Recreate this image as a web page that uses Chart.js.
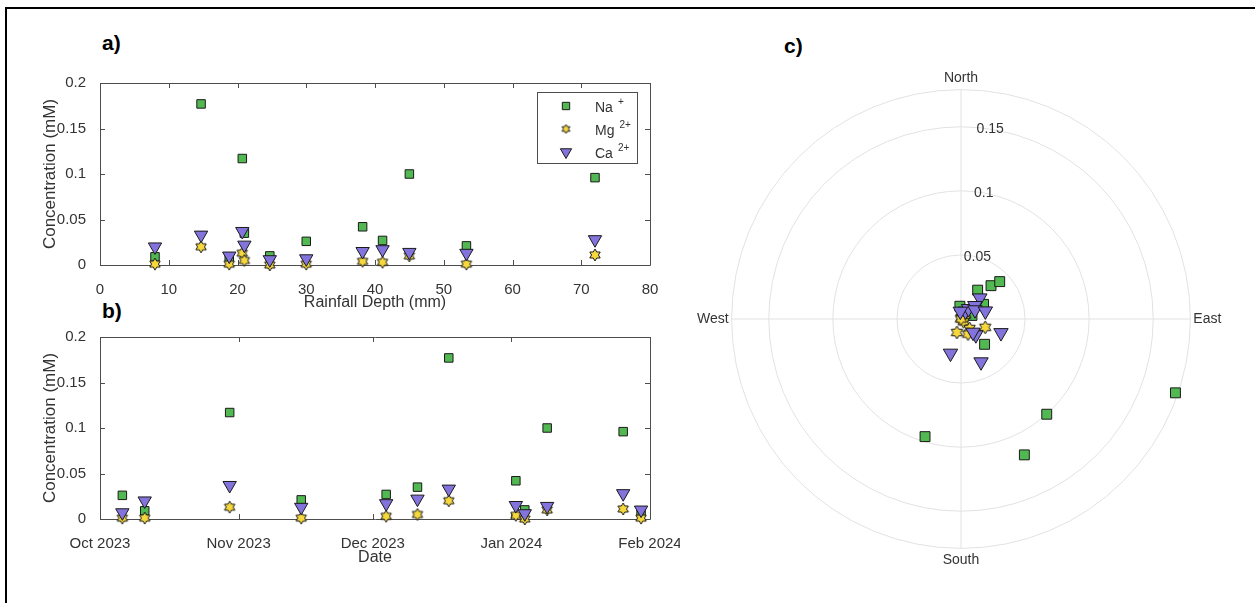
<!DOCTYPE html>
<html>
<head>
<meta charset="utf-8">
<title>Rainwater cation concentrations</title>
<script src="https://cdn.jsdelivr.net/npm/chart.js"></script>
<style>
  body { margin: 0; background: #fff; width: 1255px; height: 603px; overflow: hidden; position: relative; font-family: 'Liberation Sans', Arial, sans-serif; }
  .frame { position: absolute; left: 5px; top: 7px; width: 1400px; height: 800px; border-top: 2px solid #000; border-left: 2px solid #000; }
  canvas { position: absolute; }
  .tag { position: absolute; font-weight: bold; font-size: 21px; line-height: 20px; color: #000; }
</style>
</head>
<body>
<div class="frame"></div>
<div class="tag" style="left:102px;top:33px">a)</div>
<div class="tag" style="left:102px;top:301px">b)</div>
<div class="tag" style="left:784px;top:36px">c)</div>
<canvas id="rain" width="680" height="320" style="left:0;top:0"></canvas>
<canvas id="date" width="680" height="283" style="left:0;top:320px"></canvas>
<canvas id="compass" width="528" height="528" style="left:696px;top:55px"></canvas>
<script>
'use strict';
var FONT = "'Liberation Sans', Arial, Helvetica, sans-serif";
var INK = '#333333';

// one entry per rain event
var sampleDates = ['2023-10-06', '2023-10-11', '2023-10-30', '2023-11-15', '2023-12-04', '2023-12-11',
  '2023-12-18', '2024-01-02', '2024-01-04', '2024-01-09', '2024-01-26', '2024-01-30'];
var rainfall = [30, 8, 20.7, 53.3, 41.1, 21, 14.7, 38.2, 24.7, 45, 72, 18.8];
var naConc = [0.026, 0.009, 0.117, 0.021, 0.027, 0.035, 0.177, 0.042, 0.010, 0.100, 0.096, 0.008];
var mgConc = [0.001, 0.001, 0.013, 0.001, 0.003, 0.005, 0.020, 0.004, 0.000, 0.010, 0.011, 0.001];
var caConc = [0.007, 0.020, 0.037, 0.013, 0.017, 0.022, 0.033, 0.015, 0.006, 0.014, 0.028, 0.010];
var windDir = [30, 72, 155, 57, 137, 42, 109, 46, 355, 138, 197, 36]; // degrees clockwise from north

var ionNames = ['Na', 'Mg', 'Ca'];
var ionCharges = ['+', '2+', '2+'];
var ionFill = ['#52b852', '#f6d83c', '#8373dc'];

var rainTicks = [0, 10, 20, 30, 40, 50, 60, 70, 80];
var concTicks = [0, 0.05, 0.1, 0.15, 0.2];
var monthTicks = ['2023-10-01', '2023-11-01', '2023-12-01', '2024-01-01', '2024-02-01'];
var monthLabels = ['Oct 2023', 'Nov 2023', 'Dec 2023', 'Jan 2024', 'Feb 2024'];
var ringTicks = [0, 0.05, 0.1, 0.15];
var ringLabels = [0.05, 0.1, 0.15];
var ringMax = 0.179;
var compassNames = ['North', 'East', 'South', 'West'];

function dayOf(s) {
  return Date.parse(s) / 86400000;
}

//six pointed star like matlab's hexagram marker
function hexagram(size) {
  var c = document.createElement('canvas');
  c.width = size + 2;
  c.height = size + 2;
  var g = c.getContext('2d');
  var R = size / 2, r = R / Math.sqrt(3);
  g.beginPath();
  for (var k = 0; k < 12; k++) {
    var ang = -Math.PI / 2 + k * Math.PI / 6;
    var rr = k % 2 ? r : R;
    g.lineTo(c.width / 2 + rr * Math.cos(ang), c.height / 2 + rr * Math.sin(ang));
  }
  g.closePath();
  g.fillStyle = ionFill[1];
  g.fill();
  g.strokeStyle = '#1a1a1a';
  g.lineWidth = 1;
  g.stroke();
  return c;
}

var starSmall = hexagram(9);
var starMid = hexagram(12);
var starBig = hexagram(13);

function pointLook(i, size) {
  var shapes = ['rect', size === 'big' ? starBig : starMid, 'triangle'];
  var radius = size === 'big' ? [7, 6, 8.3] : [6, 6, 7.7];
  return {
    pointStyle: shapes[i],
    pointRadius: radius[i],
    pointRotation: i === 2 ? 180 : 0,
    pointBackgroundColor: ionFill[i],
    pointBorderColor: '#1a1a1a',
    pointBorderWidth: 1,
    backgroundColor: ionFill[i],
    borderColor: '#1a1a1a'
  };
}

function ionDatasets(xs) {
  var conc = [naConc, mgConc, caConc];
  return conc.map(function(c, i) {
    var ds = {
      label: ionNames[i],
      data: c.map(function(v, k) { return { x: xs[k], y: v }; }),
      order: 3 - i,
      clip: false
    };
    return Object.assign(ds, pointLook(i, 'mid'));
  });
}

// box around the axes with inward ticks, like matlab
var axesBox = {
  id: 'axesBox',
  beforeDatasetsDraw: function(chart) {
    var ctx = chart.ctx, a = chart.chartArea, x = chart.scales.x, y = chart.scales.y;
    ctx.save();
    ctx.strokeStyle = '#4d4d4d';
    ctx.lineWidth = 1;
    ctx.beginPath();
    ctx.rect(Math.round(a.left) + 0.5, Math.round(a.top) + 0.5, Math.round(a.width), Math.round(a.height));
    x.ticks.forEach(function(t) {
      var px = Math.round(x.getPixelForValue(t.value)) + 0.5;
      ctx.moveTo(px, a.bottom);
      ctx.lineTo(px, a.bottom - 5);
      ctx.moveTo(px, a.top);
      ctx.lineTo(px, a.top + 5);
    });
    y.ticks.forEach(function(t) {
      var py = Math.round(y.getPixelForValue(t.value)) + 0.5;
      ctx.moveTo(a.left, py);
      ctx.lineTo(a.left + 5, py);
      ctx.moveTo(a.right, py);
      ctx.lineTo(a.right - 5, py);
    });
    ctx.stroke();
    ctx.restore();
  }
};

var ionLegend = {
  id: 'ionLegend',
  afterDatasetsDraw: function(chart) {
    var ctx = chart.ctx, a = chart.chartArea;
    var left = Math.round(a.right) - 113, top = Math.round(a.top) + 9;
    var legendLook = [5.2, 0, 6.5];
    ctx.save();
    ctx.fillStyle = '#fff';
    ctx.fillRect(left, top, 100, 71);
    ctx.strokeStyle = '#4d4d4d';
    ctx.lineWidth = 1;
    ctx.strokeRect(left + 0.5, top + 0.5, 100, 71);
    chart.data.datasets.forEach(function(ds, i) {
      var cy = top + 14 + i * 23;
      ctx.fillStyle = ds.pointBackgroundColor;
      ctx.strokeStyle = ds.pointBorderColor;
      ctx.lineWidth = 1;
      Chart.helpers.drawPoint(ctx, {
        pointStyle: i === 1 ? starSmall : ds.pointStyle,
        radius: legendLook[i],
        rotation: ds.pointRotation,
        borderWidth: 1
      }, left + 29, cy);
      ctx.fillStyle = INK;
      ctx.textAlign = 'left';
      ctx.textBaseline = 'alphabetic';
      ctx.font = '14px ' + FONT;
      ctx.fillText(ionNames[i], left + 58, cy + 6);
      var tw = ctx.measureText(ionNames[i]).width;
      ctx.font = '10px ' + FONT;
      ctx.fillText(ionCharges[i], left + 58 + tw + 5, cy - 1);
    });
    ctx.restore();
  }
};

function concAxis(titlePadTop) {
  return {
    type: 'linear',
    min: 0,
    max: 0.2,
    afterBuildTicks: function(scale) {
      scale.ticks = concTicks.map(function(v) { return { value: v }; });
    },
    afterFit: function(scale) {
      scale.width = 100;
      scale.paddingTop = 0;
      scale.paddingBottom = 0;
    },
    grid: { display: false },
    border: { display: false },
    ticks: {
      padding: 6,
      color: INK,
      font: { size: 15 },
      callback: function(v) { return String(v); }
    },
    title: {
      display: true,
      text: 'Concentration (mM)',
      color: INK,
      font: { size: 17 },
      padding: { top: titlePadTop, bottom: 0 }
    }
  };
}

Chart.defaults.font.family = FONT;
Chart.defaults.color = INK;

new Chart(document.getElementById('rain'), {
  type: 'scatter',
  data: { datasets: ionDatasets(rainfall) },
  options: {
    responsive: false,
    animation: false,
    events: [],
    layout: { padding: { left: 0, top: 83, right: 30, bottom: 0 } },
    plugins: { legend: { display: false }, tooltip: { enabled: false } },
    scales: {
      x: {
        type: 'linear',
        min: 0,
        max: 80,
        afterBuildTicks: function(scale) {
          scale.ticks = rainTicks.map(function(v) { return { value: v }; });
        },
        afterFit: function(scale) {
          scale.height = 55;
          scale.paddingLeft = 0;
          scale.paddingRight = 0;
        },
        grid: { display: false },
        border: { display: false },
        ticks: { padding: 8, color: INK, font: { size: 15 }, maxRotation: 0, autoSkip: false },
        title: { display: true, text: 'Rainfall Depth (mm)', color: INK, font: { size: 16 }, padding: { top: 0, bottom: 8 } }
      },
      y: concAxis(40)
    }
  },
  plugins: [axesBox, ionLegend]
});

new Chart(document.getElementById('date'), {
  type: 'scatter',
  data: { datasets: ionDatasets(sampleDates.map(dayOf)) },
  options: {
    responsive: false,
    animation: false,
    events: [],
    layout: { padding: { left: 0, top: 17, right: 30, bottom: 0 } },
    plugins: { legend: { display: false }, tooltip: { enabled: false } },
    scales: {
      x: {
        type: 'linear',
        min: dayOf(monthTicks[0]),
        max: dayOf(monthTicks[monthTicks.length - 1]),
        afterBuildTicks: function(scale) {
          scale.ticks = monthTicks.map(function(d) { return { value: dayOf(d) }; });
        },
        afterFit: function(scale) {
          scale.height = 84;
          scale.paddingLeft = 0;
          scale.paddingRight = 0;
        },
        grid: { display: false },
        border: { display: false },
        ticks: {
          padding: 8,
          color: INK,
          font: { size: 15 },
          maxRotation: 0,
          autoSkip: false,
          callback: function(v, idx) { return monthLabels[idx]; }
        },
        title: { display: true, text: 'Date', color: INK, font: { size: 16 }, padding: { top: 0, bottom: 36 } }
      },
      y: concAxis(40)
    }
  },
  plugins: [axesBox]
});

// polar panel: a radar scale with one spoke per degree
var dirLabels = [];
for (var deg = 0; deg < 360; deg++) {
  dirLabels.push(deg % 90 === 0 ? compassNames[deg / 90] : '');
}

function polarData(conc) {
  var arr = dirLabels.map(function() { return null; });
  for (var k = 0; k < conc.length; k++) {
    arr[windDir[k]] = conc[k];
  }
  return arr;
}

var ringText = {
  id: 'ringText',
  beforeDatasetsDraw: function(chart) {
    var r = chart.scales.r, ctx = chart.ctx;
    ctx.save();
    ctx.font = '14px ' + FONT;
    ctx.fillStyle = INK;
    ctx.textAlign = 'center';
    ctx.textBaseline = 'middle';
    ringLabels.forEach(function(v) {
      var d = r.getDistanceFromCenterForValue(v);
      ctx.fillText(String(v), r.xCenter + 10 + 0.1 * d, r.yCenter - d + 2);
    });
    ctx.restore();
  }
};

new Chart(document.getElementById('compass'), {
  type: 'radar',
  data: {
    labels: dirLabels,
    datasets: [naConc, mgConc, caConc].map(function(c, i) {
      return Object.assign({
        label: ionNames[i],
        data: polarData(c),
        order: 3 - i,
        fill: false,
        borderWidth: 0,
        spanGaps: false,
        clip: false
      }, pointLook(i, 'big'));
    })
  },
  options: {
    responsive: false,
    animation: false,
    events: [],
    layout: { padding: 0 },
    plugins: { legend: { display: false }, tooltip: { enabled: false } },
    scales: {
      r: {
        min: 0,
        max: ringMax,
        afterBuildTicks: function(scale) {
          scale.ticks = ringTicks.concat([ringMax]).map(function(v) { return { value: v }; });
        },
        grid: { circular: true, color: '#e2e2e2', lineWidth: 1 },
        angleLines: {
          display: true,
          color: '#e2e2e2',
          lineWidth: function(c) { return c.index % 90 === 0 ? 1 : 0; }
        },
        ticks: { display: false },
        pointLabels: { display: true, color: INK, padding: 3, font: { size: 14 } }
      }
    }
  },
  plugins: [ringText]
});
</script>
</body>
</html>
